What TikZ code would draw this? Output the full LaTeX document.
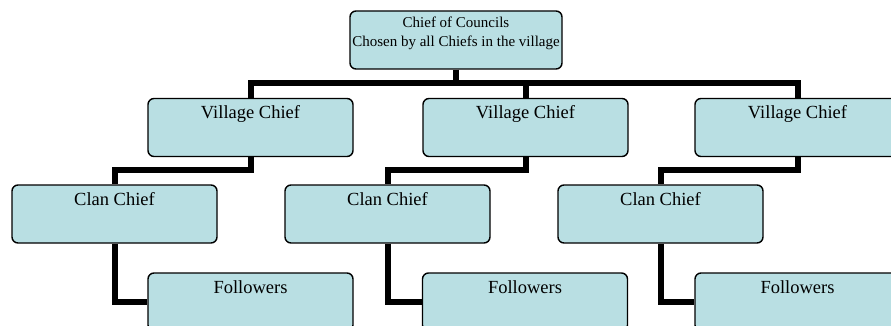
\documentclass[tikz,border=0pt]{standalone}
\usepackage{fontspec}
\setmainfont{Liberation Serif}
\definecolor{boxfill}{RGB}{185,223,227}
\begin{document}
\begin{tikzpicture}[x=1pt,y=-1pt,
  orgbox/.style={draw=black, line width=1.4pt, fill=boxfill, rounded corners=6pt,
    rectangle, minimum width=205pt, minimum height=58pt, inner sep=0pt},
  lbl/.style={anchor=base, inner sep=0pt, yshift=-21pt, font=\fontsize{18.5}{22}\selectfont},
  conn/.style={line width=6pt, black}]
\useasboundingbox (0,0) rectangle (891,326);
\clip (0,0) rectangle (891,326);
% nodes
\node[orgbox, minimum width=212pt] (top) at (456,40) {};
\node[anchor=base, inner sep=0pt, font=\fontsize{15}{19}\selectfont, align=center] (toptext) at (456,47)
  {Chief of Councils\\Chosen by all Chiefs in the village};
\node[orgbox, label={[lbl]north:Village Chief}] (v1) at (250.5,127.5) {};
\node[orgbox, label={[lbl]north:Village Chief}] (v2) at (525.5,127.5) {};
\node[orgbox, label={[lbl]north:Village Chief}] (v3) at (797.5,127.5) {};
\node[orgbox, label={[lbl]north:Clan Chief}] (c1) at (114.5,214) {};
\node[orgbox, label={[lbl]north:Clan Chief}] (c2) at (387.5,214) {};
\node[orgbox, label={[lbl]north:Clan Chief}] (c3) at (660.5,214) {};
\node[orgbox, label={[lbl]north:Followers}] (f1) at (250.5,302) {};
\node[orgbox, label={[lbl]north:Followers}] (f2) at (525,302) {};
\node[orgbox, label={[lbl]north:Followers}] (f3) at (797.5,302) {};
\coordinate (bus) at (0,83);
% connectors
\draw[conn] (top.south) -- (top.south |- bus);
\draw[conn] (v1.north) -- (v1.north |- bus) -- (v3.north |- bus) -- (v3.north);
\draw[conn] (v2.north) -- (v2.north |- bus);
\draw[conn] (v1.south) -- ++(0,13) -| (c1.north);
\draw[conn] (v2.south) -- ++(0,13) -| (c2.north);
\draw[conn] (v3.south) -- ++(0,13) -| (c3.north);
\draw[conn] (c1.south) |- (f1.west);
\draw[conn] (c2.south) |- (f2.west);
\draw[conn] (c3.south) |- (f3.west);
\end{tikzpicture}
\end{document}
